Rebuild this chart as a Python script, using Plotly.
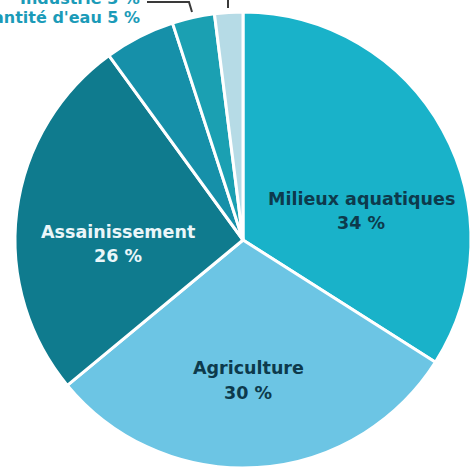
import plotly.graph_objects as go

categories = ["Milieux aquatiques", "Agriculture", "Assainissement", "Quantité d'eau", "Industrie", "Autres"]
values = [34, 30, 26, 5, 3, 2]
colors = ["#19b2c9", "#6cc5e4", "#0f7b8e", "#1690a9", "#1ba0b2", "#b6dbe6"]

W, H = 476, 470

fig = go.Figure(go.Pie(
    labels=categories,
    values=values,
    sort=False,
    direction="clockwise",
    rotation=0,
    marker=dict(colors=colors, line=dict(color="white", width=3)),
    textinfo="none",
    hoverinfo="label+percent",
    domain=dict(x=[15 / W, 471 / W], y=[2 / H, 458 / H]),
    showlegend=False,
))

def px(x):
    return x / W

def py(y):
    return (H - y) / H

label_font = "DejaVu Sans"
inside = [
    ("Milieux aquatiques", "34 %", 361, 199, 223, "#0d3a4c"),
    ("Agriculture", "30 %", 248, 368, 393, "#0d3a4c"),
    ("Assainissement", "26 %", 118, 232, 256, "#eaf6f9"),
]
annotations = []
for name, pct, x, y1, y2, col in inside:
    for txt, yy in ((name, y1), (pct, y2)):
        annotations.append(dict(
            x=px(x), y=py(yy), xref="paper", yref="paper",
            text="<b>" + txt + "</b>", showarrow=False,
            xanchor="center", yanchor="middle",
            font=dict(family=label_font, size=17.5, color=col),
        ))

outer = [("Industrie 3 %", -2), ("Quantité d'eau 5 %", 17)]
for txt, yy in outer:
    annotations.append(dict(
        x=px(142), y=py(yy), xref="paper", yref="paper",
        text="<b>" + txt + "</b>", showarrow=False,
        xanchor="right", yanchor="middle",
        font=dict(family=label_font, size=16, color="#1b9bb8"),
    ))

shapes = [
    dict(type="path", xref="paper", yref="paper",
         path=f"M {px(147)} {py(2)} L {px(189)} {py(2)} L {px(192)} {py(12)}",
         line=dict(color="#3a3a3a", width=2)),
    dict(type="line", xref="paper", yref="paper",
         x0=px(228), y0=py(0), x1=px(228), y1=py(8),
         line=dict(color="#3a3a3a", width=2)),
]

fig.update_layout(
    width=W, height=H,
    margin=dict(l=0, r=0, t=0, b=0),
    paper_bgcolor="white",
    plot_bgcolor="white",
    annotations=annotations,
    shapes=shapes,
)

fig.write_html("out.html")
